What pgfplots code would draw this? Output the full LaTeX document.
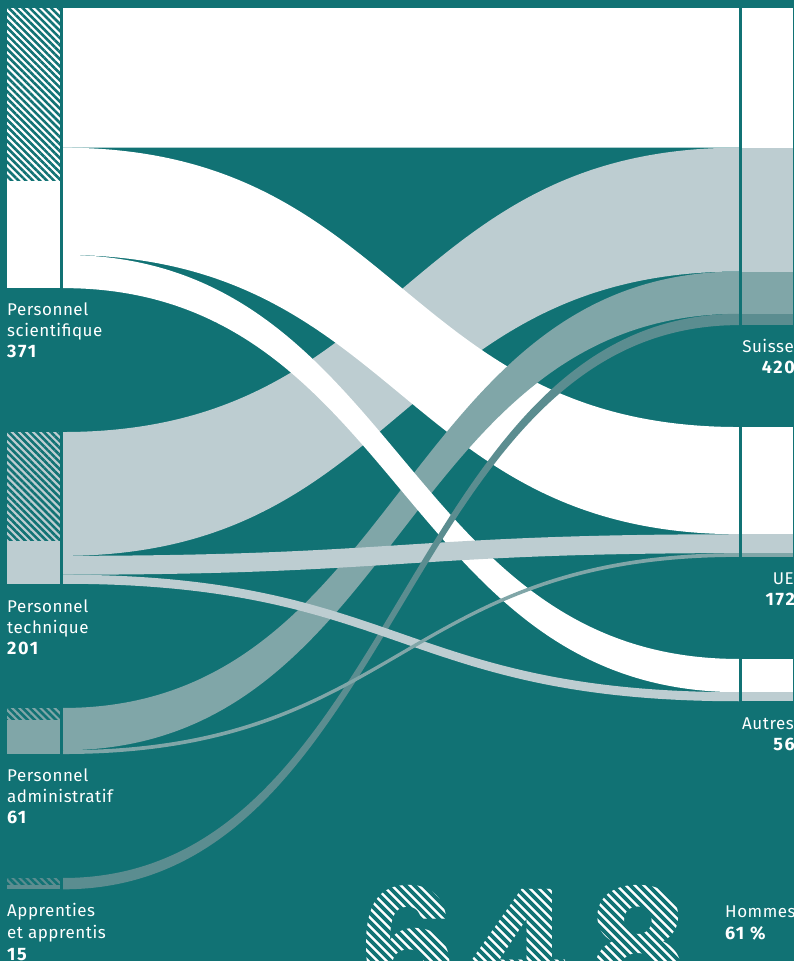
\documentclass[border=0pt]{standalone}
\usepackage{pgfplots}
\pgfplotsset{compat=1.18}
\usetikzlibrary{patterns.meta}
\usepackage{fontspec}
\setmainfont{Fira Sans}
\newfontfamily\lab{Fira Sans}[LetterSpace=3]
\newfontfamily\labb{Fira Sans}[LetterSpace=9]
\newfontfamily\bigf{Poppins}
\definecolor{bg}{HTML}{117274}
\definecolor{cs}{HTML}{FFFFFF}
\definecolor{ct}{HTML}{BDCDD1}
\definecolor{ca}{HTML}{80A6A8}
\definecolor{cp}{HTML}{5B8D90}
% flow: colour, left top, right top, value (in persons)
\newcommand{\flow}[4]{%
  \fill[#1] (63,#2) .. controls (401,#2) and (401,#3) .. (739,#3)
    -- (739,{#3+#4}) .. controls (401,{#3+#4}) and (401,{#2+#4}) .. (63,{#2+#4}) -- cycle;
  \fill[#1] (742,#3) rectangle (793,{#3+#4});}
% node: colour, top, total, men (hatched)
\newcommand{\lnode}[4]{%
  \fill[#1] (7,#2) rectangle (60,{#2+#3});
  \fill[pattern={Lines[angle=-45,distance=5pt,line width=2.6pt]}, pattern color=bg] (7,#2) rectangle (60,{#2+#4});}
\begin{document}
\begin{tikzpicture}
\path[use as bounding box] (0,0) rectangle (794pt,961pt);
\clip (0,0) rectangle (794pt,961pt);
\fill[bg] (0,0) rectangle (794pt,961pt);
\begin{axis}[at={(0,0)}, anchor=south west, scale only axis,
  width=794pt, height=961pt, xmin=0, xmax=794, ymin=0, ymax=1272.85,
  y dir=reverse, hide axis, clip=false]
% left nodes: Personnel scientifique 371, technique 201, administratif 61, apprentis 15
\lnode{cs}{10.6}{371}{228}
\lnode{ct}{572.2}{201}{144}
\lnode{ca}{937.7}{61}{15}
\lnode{cp}{1162.9}{15}{8}
% flows (drawing order = stacking order)
\flow{cs}{10.6}{10.6}{185}     % sci -> Suisse
\flow{ct}{572.2}{195.6}{164}   % tech -> Suisse
\flow{cs}{195.6}{565.6}{142}   % sci -> UE
\flow{ca}{937.7}{359.6}{56}    % admin -> Suisse
\flow{cs}{337.6}{872.8}{44}    % sci -> Autres
\flow{ct}{736.2}{707.6}{25}    % tech -> UE
\flow{cp}{1162.9}{415.6}{15}   % apprentis -> Suisse
\flow{ct}{761.2}{916.8}{12}    % tech -> Autres
\flow{ca}{993.7}{732.6}{5}     % admin -> UE
\end{axis}
\begin{scope}[x=1pt, y=-1pt, yshift=961pt]
\draw[bg, line width=2.5pt] (740.5,0) -- (740.5,961);
\tikzset{lt/.style={inner sep=0pt, text=white, font=\lab\fontsize{17}{20}\selectfont},
         bt/.style={inner sep=0pt, text=white, font=\labb\bfseries\fontsize{18}{20}\selectfont}}
\node[lt, anchor=base west] at (7,316) {Personnel};
\node[lt, anchor=base west] at (7,337) {scientifique};
\node[bt, anchor=base west] at (7,358) {371};
\node[lt, anchor=base west] at (7,613) {Personnel};
\node[lt, anchor=base west] at (7,634) {technique};
\node[bt, anchor=base west] at (7,655) {201};
\node[lt, anchor=base west] at (7,782) {Personnel};
\node[lt, anchor=base west] at (7,803) {administratif};
\node[bt, anchor=base west] at (7,824) {61};
\node[lt, anchor=base west] at (7,917) {Apprenties};
\node[lt, anchor=base west] at (7,938) {et apprentis};
\node[bt, anchor=base west] at (7,960) {15};
\node[lt, anchor=base east] at (794,353) {Suisse};
\node[bt, anchor=base east] at (795,374) {420};
\node[lt, anchor=base east] at (794,585) {UE};
\node[bt, anchor=base east] at (795,606) {172};
\node[lt, anchor=base east] at (794,730) {Autres};
\node[bt, anchor=base east] at (795,751) {56};
\node[lt, anchor=base west] at (725,918) {Hommes};
\node[bt, anchor=base west] at (725,940) {61 \%};
\tikzset{dg/.style={inner sep=0pt, anchor=base west, text=white, font=\bigf\bfseries\fontsize{160}{160}\selectfont}}
\node[dg] at (356,1004) {6};
\node[dg] at (463,1004) {4};
\node[dg] at (586,1004) {8};
\begin{scope}
\clip (345,870) rectangle (705,961);
\foreach \a in {200,209,...,720} {\draw[bg, line width=3.6pt] (\a,860) -- ({\a+120},980);}
\end{scope}
\end{scope}
\end{tikzpicture}
\end{document}
